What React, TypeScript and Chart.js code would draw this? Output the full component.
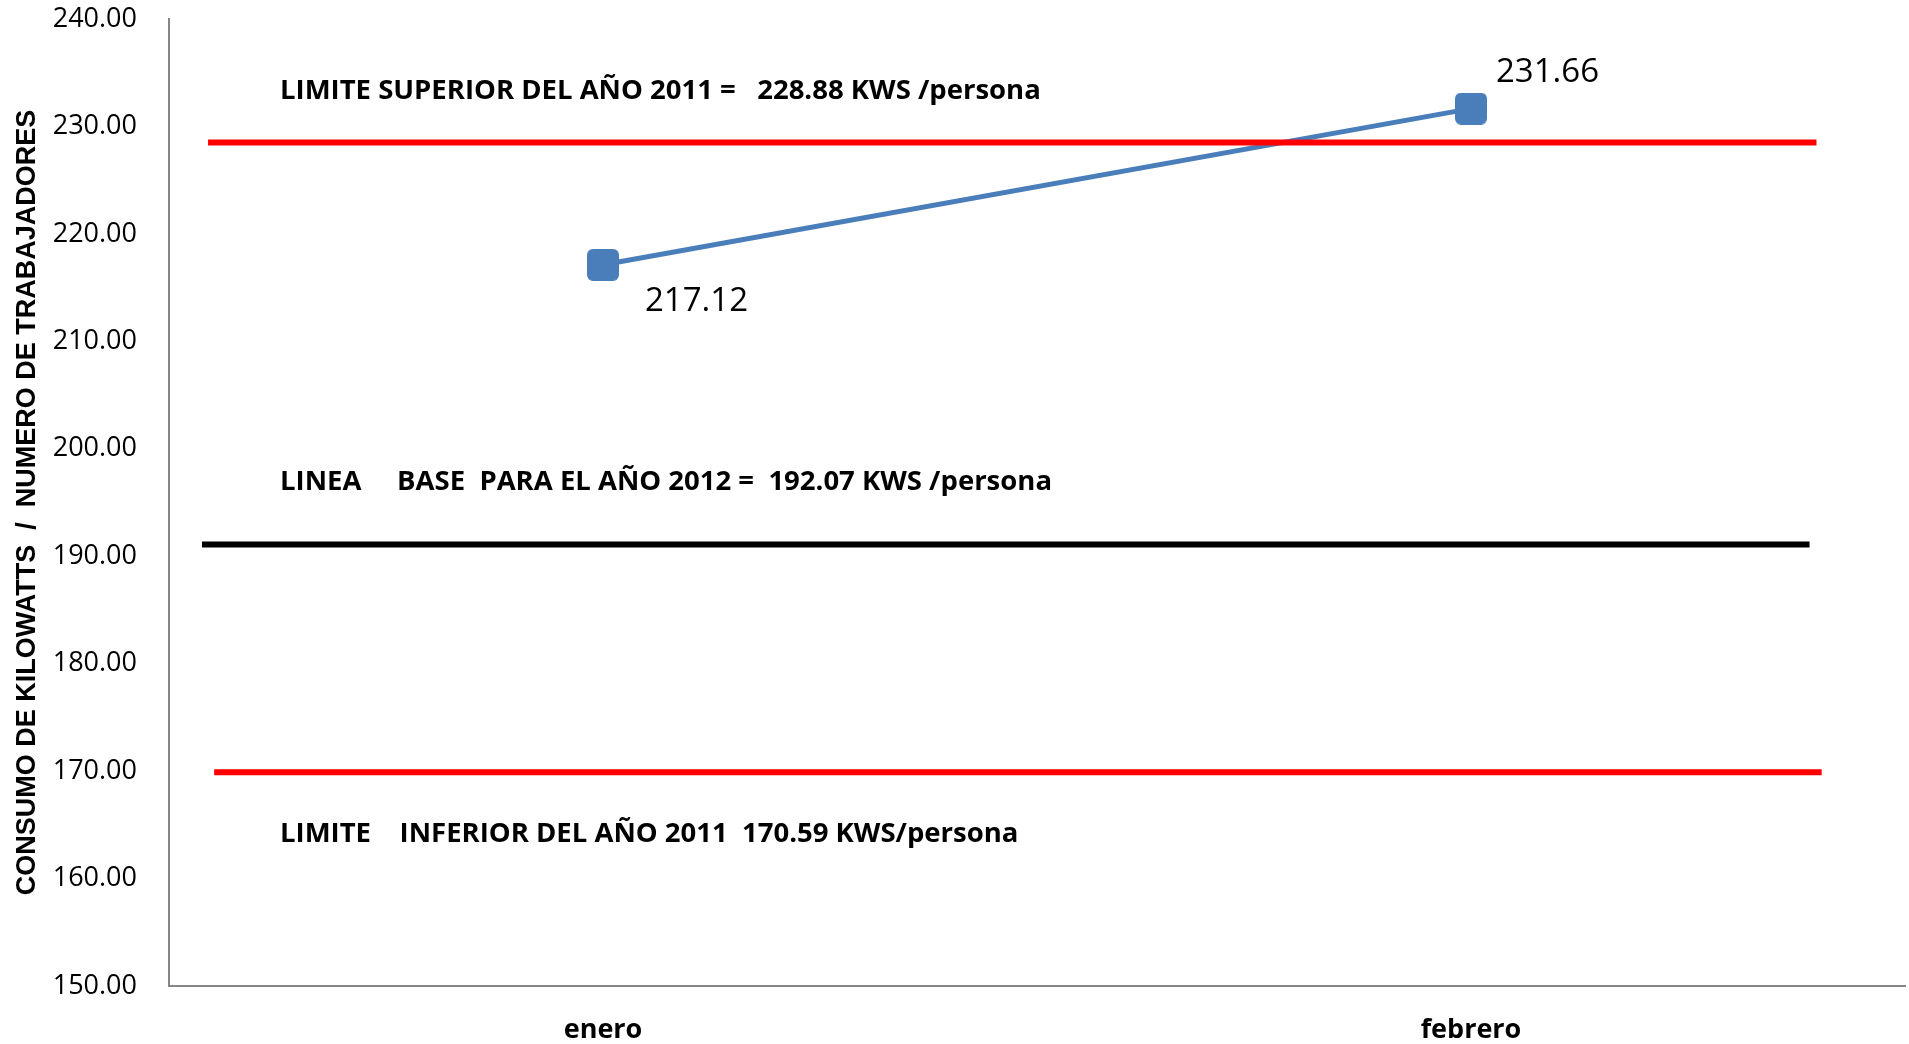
import React, { useEffect, useRef } from "react";
import { Chart, registerables } from "chart.js";

Chart.register(...registerables);

// ---- data ----
const categories = ["enero", "febrero"];
const consumo = [217.12, 231.66];
const yMin = 150;
const yMax = 240;
const yStep = 10;
// reference lines (values as drawn in the picture)
const refLineValues = [228.5, 191.1, 169.9];
const refLineColors = ["#FF0000", "#000000", "#FF0000"];
const refLabels = [
  "LIMITE SUPERIOR DEL AÑO 2011 =   228.88 KWS /persona",
  "LINEA     BASE  PARA EL AÑO 2012 =  192.07 KWS /persona",
  "LIMITE    INFERIOR DEL AÑO 2011  170.59 KWS/persona",
];
const yAxisTitle = "CONSUMO DE KILOWATTS  /  NUMERO DE TRABAJADORES";

const overlayPlugin = {
  id: "overlay",
  afterDatasetsDraw(chart: any, _args: any, opts: any) {
    const { ctx, chartArea, scales } = chart;
    const ys = scales.y;
    const w = chartArea.right - chartArea.left;
    ctx.save();
    refLineValues.forEach((v, i) => {
      const py = ys.getPixelForValue(v);
      const span = opts.lineSpans[i];
      ctx.strokeStyle = refLineColors[i];
      ctx.lineWidth = opts.lineWidth;
      ctx.lineCap = "butt";
      ctx.beginPath();
      ctx.moveTo(chartArea.left + span[0] * w, py);
      ctx.lineTo(chartArea.left + span[1] * w, py);
      ctx.stroke();
    });
    ctx.fillStyle = "#000";
    ctx.textBaseline = "middle";
    ctx.textAlign = "left";
    ctx.font = opts.textFont;
    refLabels.forEach((t, i) => {
      const py = ys.getPixelForValue(opts.textAt[i]);
      ctx.fillText(t, chartArea.left + opts.textX, py);
    });
    ctx.font = opts.valueFont;
    const meta = chart.getDatasetMeta(0);
    meta.data.forEach((pt: any, i: number) => {
      const off = opts.valueOffsets[i];
      ctx.fillText(consumo[i].toFixed(2), pt.x + off[0], pt.y + off[1]);
    });
    ctx.restore();
  },
};

function roundedSquare(size: number, r: number, fill: string) {
  const c = document.createElement("canvas");
  c.width = size;
  c.height = size;
  const g = c.getContext("2d")!;
  g.fillStyle = fill;
  g.beginPath();
  (g as any).roundRect(0, 0, size, size, r);
  g.fill();
  return c;
}

const noPad = (s: any) => {
  s.paddingTop = 0;
  s.paddingBottom = 0;
  s.paddingLeft = 0;
  s.paddingRight = 0;
};

export default function App() {
  const ref = useRef<HTMLCanvasElement>(null);
  useEffect(() => {
    const marker = roundedSquare(32, 6, "#4A7EBB");
    const chart = new Chart(ref.current!, {
      type: "line",
      data: {
        labels: categories,
        datasets: [
          {
            data: consumo,
            borderColor: "#4A7EBB",
            backgroundColor: "#4A7EBB",
            borderWidth: 5,
            pointStyle: marker as any,
            pointRadius: 16,
            tension: 0,
            clip: false as any,
          },
        ],
      },
      options: {
        responsive: false,
        animation: false,
        layout: { autoPadding: false, padding: { top: 19, right: 4, left: 0, bottom: 0 } },
        plugins: {
          legend: { display: false },
          tooltip: { enabled: false },
          overlay: {
            lineWidth: 6,
            lineSpans: [
              [0.0225, 0.949],
              [0.019, 0.945],
              [0.026, 0.952],
            ],
            textFont: "bold 27.5px 'Open Sans'",
            textX: 111,
            textAt: [233.27, 196.87, 164.12],
            valueFont: "33px 'Open Sans'",
            valueOffsets: [
              [42, 37],
              [25, -36],
            ],
          },
        } as any,
        scales: {
          x: {
            type: "category",
            offset: true,
            grid: { display: false, drawTicks: false },
            border: { display: true, color: "#868686", width: 2 },
            ticks: {
              color: "#000",
              padding: 28,
              font: { family: "'Open Sans'", size: 27, weight: "bold" },
            },
            afterFit: (s: any) => {
              s.height = 58;
              noPad(s);
            },
          },
          y: {
            min: yMin,
            max: yMax,
            grid: { display: false, drawTicks: false },
            border: { display: true, color: "#868686", width: 2 },
            ticks: {
              stepSize: yStep,
              color: "#000",
              padding: 32,
              font: { family: "'Open Sans'", size: 27 },
              callback: (v: any) => Number(v).toFixed(2),
            },
            title: {
              display: true,
              text: yAxisTitle,
              color: "#000",
              padding: { top: 11, bottom: 0 },
              font: { family: "'Liberation Sans'", size: 27, weight: "bold" },
            },
            afterFit: (s: any) => {
              s.width = 169;
              noPad(s);
            },
          },
        },
      },
      plugins: [overlayPlugin],
    });
    return () => chart.destroy();
  }, []);
  return (
    <div style={{ position: "fixed", left: 0, top: 0, width: 1909, height: 1044, background: "#fff" }}>
      <canvas ref={ref} width={1909} height={1044} style={{ display: "block" }} />
    </div>
  );
}
